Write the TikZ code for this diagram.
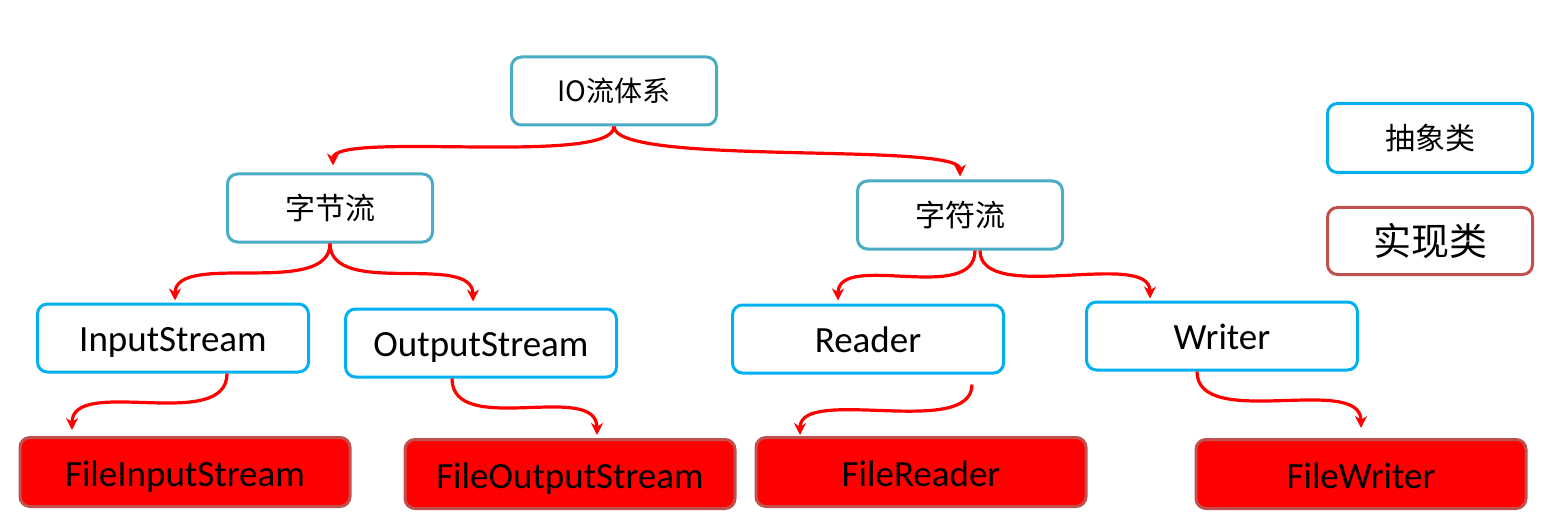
\documentclass[tikz,border=0pt]{standalone}
\usepackage{fontspec}
\setmainfont{Carlito}
\newfontfamily\cjk{Noto Sans CJK SC}
\usetikzlibrary{arrows.meta}
\definecolor{teal}{HTML}{4BACC6}
\definecolor{sky}{HTML}{00B0F0}
\definecolor{brick}{HTML}{C0504D}
\tikzstyle{box}=[draw,line width=1.5pt,rounded corners=5pt,inner sep=0pt,fill=white]
\tikzstyle{topic}=[box,draw=teal,minimum width=102.5pt,minimum height=34pt,font=\cjk\fontsize{15}{15}\selectfont]
\tikzstyle{abstract}=[box,draw=sky,minimum width=135.5pt,minimum height=34pt,text height=13.5pt,text depth=0pt,font=\fontsize{18.5}{18.5}\selectfont]
\tikzstyle{impl}=[box,draw=brick,fill=red,minimum width=165pt,minimum height=34.5pt,text height=14.5pt,text depth=0pt,font=\fontsize{18.5}{18.5}\selectfont]
\tikzstyle{arr}=[draw=red,line width=1.6pt,-{Stealth[length=6pt,width=6pt]}]

\begin{document}
\begin{tikzpicture}[x=0.5pt,y=-0.5pt]
  \useasboundingbox (0,0) rectangle (1565,519);

  \node[topic,font=\cjk\fontsize{14}{14}\selectfont] (io) at (614,91) {IO流体系};
  \node[topic] (byte) at (330,208) {字节流};
  \node[topic] (char) at (960,215) {字符流};

  \node[abstract] (in) at (173,338) {InputStream};
  \node[abstract] (out) at (481,343) {OutputStream};
  \node[abstract] (reader) at (868,339) {Reader};
  \node[abstract] (writer) at (1222,336) {Writer};

  \node[impl] (fin) at (185,472) {FileInputStream};
  \node[impl] (fout) at (570,474) {FileOutputStream};
  \node[impl] (freader) at (921,472) {FileReader};
  \node[impl] (fwriter) at (1361,474) {FileWriter};

  % legend
  \node[box,draw=sky,minimum width=102.5pt,minimum height=34.5pt,font=\cjk\fontsize{15}{15}\selectfont] (abs) at (1430,138) {抽象类};
  \node[box,draw=brick,minimum width=102.5pt,minimum height=33.5pt,font=\cjk\fontsize{19}{19}\selectfont] (imp) at (1430,241) {实现类};

  \draw[arr] (io.south) .. controls +(0,40) and +(0,-35) .. ([xshift=1.5pt,yshift=3.5pt]byte.north);
  \draw[arr] (io.south) .. controls +(0,40) and +(0,-35) .. ([yshift=1.5pt]char.north);
  \draw[arr] (byte.south) .. controls +(0,55) and +(0,-50) .. ([xshift=1pt,yshift=1pt]in.north);
  \draw[arr] (byte.south) .. controls +(0,55) and +(0,-50) .. ([xshift=-4pt,yshift=3pt]out.north);
  \draw[arr] ([xshift=7.5pt]char.south) .. controls +(0,55) and +(0,-50) .. ([xshift=-15pt,yshift=1.5pt]reader.north);
  \draw[arr] ([xshift=10pt]char.south) .. controls +(0,55) and +(0,-50) .. ([xshift=-36pt,yshift=1pt]writer.north);
  \draw[arr] ([xshift=27pt]in.south) .. controls +(0,60) and +(0,-55) .. ([xshift=-56.5pt,yshift=3pt]fin.north);
  \draw[arr] ([xshift=-14.5pt]out.south) .. controls +(0,60) and +(0,-55) .. ([xshift=13.5pt,yshift=1.5pt]fout.north);
  \draw[arr] ([xshift=52pt,yshift=-5pt]reader.south) .. controls +(0,55) and +(0,-50) .. ([xshift=-60.5pt,yshift=0.5pt]freader.north);
  \draw[arr] ([xshift=-12.5pt]writer.south) .. controls +(0,60) and +(0,-55) .. ([yshift=5pt]fwriter.north);
\end{tikzpicture}
\end{document}
